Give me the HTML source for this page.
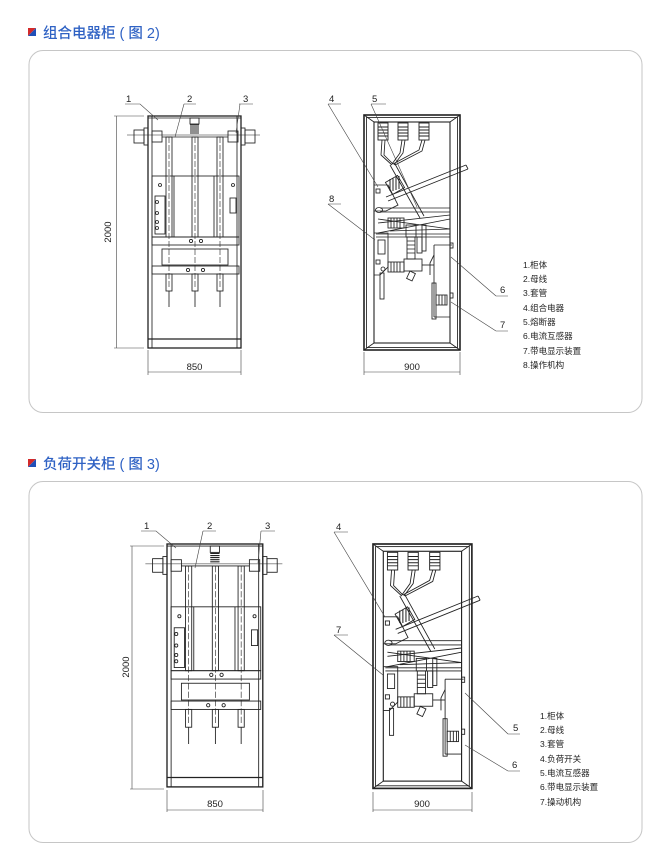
<!DOCTYPE html>
<html><head><meta charset="utf-8"><style>
html,body{margin:0;padding:0;background:#fff;width:661px;height:859px;overflow:hidden}
svg{display:block}
text{font-family:"Liberation Sans","Noto Sans CJK SC",sans-serif;fill:#222}
.t{fill:#2f62c4;font-size:14.5px;font-weight:500}
.lg{font-size:8.5px}
.n{font-size:9.5px}
</style></head><body>
<svg width="661" height="859" viewBox="0 0 661 859" xmlns="http://www.w3.org/2000/svg">
<defs>
<g id="L" fill="none" stroke="#222" stroke-width="0.85">
  <rect x="0" y="0" width="93" height="232" stroke-width="1.3"/>
  <line x1="4" y1="0" x2="4" y2="232"/><line x1="89" y1="0" x2="89" y2="232"/>
  <line x1="0" y1="223" x2="93" y2="223" stroke-width="1.2"/>
  <line x1="0" y1="2" x2="93" y2="2"/>
  <rect x="-14" y="14" width="10" height="13"/><rect x="-4" y="12" width="4" height="17"/>
  <rect x="97" y="14" width="10" height="13"/><rect x="93" y="12" width="4" height="17"/>
  <rect x="4" y="15" width="10" height="11"/><rect x="80" y="15" width="10" height="11"/>
  <line x1="-21" y1="19" x2="112" y2="19" stroke-width="0.5"/>
  <line x1="14" y1="21" x2="80" y2="21"/>
  <rect x="42" y="2" width="9" height="6"/>
  <path d="M42 9h9M42 11h9M42 13h9M42 15h9M42 17h9" stroke-width="1.1"/>
  <rect x="18" y="21" width="6" height="100"/><rect x="44" y="21" width="6" height="100"/><rect x="69" y="21" width="6" height="100"/>
  <path d="M21 21v150M47 21v150M72 21v150" stroke-dasharray="6 2" stroke-width="0.6"/>
  <rect x="4" y="60" width="87" height="61"/>
  <line x1="26" y1="60" x2="26" y2="121"/><line x1="66" y1="60" x2="66" y2="121"/>
  <rect x="7" y="80" width="10" height="38"/>
  <circle cx="9" cy="86" r="1.5"/><circle cx="9" cy="97" r="1.5"/><circle cx="9" cy="106" r="1.5"/><circle cx="9" cy="112" r="1.5"/>
  <rect x="82" y="82" width="6" height="15"/>
  <circle cx="85" cy="69" r="1.5"/><circle cx="12" cy="69" r="1.5"/>
  <rect x="4" y="121" width="87" height="8"/>
  <circle cx="43" cy="125" r="1.6"/><circle cx="53" cy="125" r="1.6"/>
  <rect x="14" y="133" width="66" height="16"/>
  <rect x="4" y="150" width="87" height="8"/>
  <circle cx="40" cy="154" r="1.6"/><circle cx="55" cy="154" r="1.6"/>
  <rect x="18" y="158" width="6" height="17"/><rect x="44" y="158" width="6" height="17"/><rect x="69" y="158" width="6" height="17"/>
  <path d="M21 175v16M47 175v16M72 175v16"/>
</g>
<g id="R" fill="none" stroke="#222" stroke-width="0.85">
  <rect x="0" y="0" width="96" height="235" stroke-width="1.6"/>
  <rect x="2.5" y="2.5" width="91" height="230"/>
  <rect x="10" y="7" width="76" height="221" stroke-width="1.1"/>
  <path d="M0 0L10 7M96 0L86 7M0 235L10 228M96 235L86 228"/>
  <g stroke-width="0.9">
  <rect x="14" y="8" width="10" height="17"/><path d="M14 12h10M14 15h10M14 18h10M14 21h10"/>
  <rect x="34" y="8" width="10" height="17"/><path d="M34 12h10M34 15h10M34 18h10M34 21h10"/>
  <rect x="55" y="8" width="10" height="17"/><path d="M55 12h10M55 15h10M55 18h10M55 21h10"/>
  </g>
  <path d="M18 25L17 40L28 50M21 25L20 40L29 49M38 25L36 38L28 49M41 25L39 38L30 50M58 25L55 35L29 49M61 25L58 36L31 50"/>
  <path d="M26 50L56 103M31 49L60 101"/>
  <path d="M10 70H24L34 90L22 96H10"/>
  <rect x="24" y="63" width="14" height="14" transform="rotate(-30 31 70)"/>
  <path d="M26 64v12M29 63v13M32 62v13M35 61v13" stroke-width="1"/>
  <path d="M22 82L102 50M24 86L104 54M102 50L104 54"/>
  <rect x="12" y="74" width="4" height="4"/>
  <path d="M16 93H86M16 97H86"/><ellipse cx="15" cy="95" rx="3.5" ry="2.5"/>
  <path d="M14 108L86 100M14 118L86 104M14 104L86 114M26 116L86 114"/>
  <rect x="24" y="103" width="16" height="10"/><path d="M27 103v10M30 103v10M33 103v10M36 103v10"/>
  <rect x="42" y="110" width="10" height="12"/>
  <path d="M12 119H86M12 122H86"/>
  <rect x="43" y="122" width="8" height="22"/><path d="M43 126h8M43 130h8M43 134h8M43 138h8"/>
  <rect x="53" y="122" width="5" height="16"/><rect x="58" y="110" width="4" height="26"/>
  <path d="M10 118H24V152L16 160H10"/><rect x="14" y="125" width="7" height="14"/>
  <rect x="12" y="145" width="4" height="4"/><circle cx="19" cy="154" r="2"/>
  <rect x="16" y="158" width="4" height="26"/>
  <rect x="24" y="147" width="16" height="10"/><path d="M27 147v10M30 147v10M33 147v10M36 147v10"/>
  <rect x="40" y="144" width="18" height="12"/><rect x="44" y="157" width="6" height="8" transform="rotate(25 47 161)"/>
  <path d="M58 150H70"/>
  <path d="M70 130H88M70 130V202M70 202H86"/>
  <rect x="86" y="128" width="3" height="5"/><rect x="86" y="178" width="3" height="5"/>
  <path d="M70 140L66 148V160"/>
  <rect x="68" y="168" width="4" height="36"/>
  <rect x="72" y="180" width="11" height="10"/><path d="M75 180v10M78 180v10M81 180v10"/>
</g>
</defs>

<path d="M28 36L36 28H28Z" fill="#d42a2a"/><path d="M28 36H36V28Z" fill="#1f4fb8"/>
<text x="43" y="38" class="t">组合电器柜 ( 图 2)</text>
<rect x="29" y="50.5" width="613" height="362" rx="14" fill="none" stroke="#c6c6c6" stroke-width="1"/>

<use href="#L" x="148" y="116"/>
<use href="#R" x="364" y="115"/>
<g stroke="#444" stroke-width="0.6" fill="none">
  <path d="M114 116H144M114 348H144M116.5 116V348"/>
  <path d="M148 350V375M241 350V375M148 372H241"/>
  <path d="M364 352V375M460 352V375M364 372H460"/>
  <path d="M125 104H140L158 120M184 104H196M184 104L175 137M239 104H253M240 104L236 133"/>
  <path d="M328 104H341M328 104L378 187M371 104H386M371 104L417 207M328 204H341M328 204L375 240"/>
  <path d="M496 296H508M496 296L451 257M496 331H508M496 331L451 302"/>
</g>
<text x="108" y="232" class="n" text-anchor="middle" transform="rotate(-90 108 232)" dy="3">2000</text>
<text x="194.5" y="370" class="n" text-anchor="middle">850</text>
<text x="412" y="370" class="n" text-anchor="middle">900</text>
<text x="126" y="102" class="n">1</text><text x="187" y="102" class="n">2</text><text x="243" y="102" class="n">3</text>
<text x="329" y="102" class="n">4</text><text x="372" y="102" class="n">5</text><text x="329" y="202" class="n">8</text>
<text x="500" y="293" class="n">6</text><text x="500" y="328" class="n">7</text>
<text x="523" y="268" class="lg">1.柜体</text>
<text x="523" y="282" class="lg">2.母线</text>
<text x="523" y="296" class="lg">3.套管</text>
<text x="523" y="311" class="lg">4.组合电器</text>
<text x="523" y="325" class="lg">5.熔断器</text>
<text x="523" y="339" class="lg">6.电流互感器</text>
<text x="523" y="354" class="lg">7.带电显示装置</text>
<text x="523" y="368" class="lg">8.操作机构</text>

<path d="M28 467L36 459H28Z" fill="#d42a2a"/><path d="M28 467H36V459Z" fill="#1f4fb8"/>
<text x="43" y="469" class="t">负荷开关柜 ( 图 3)</text>
<rect x="29" y="481.5" width="613" height="361" rx="14" fill="none" stroke="#c6c6c6" stroke-width="1"/>

<g transform="translate(167 544) scale(1.03 1.047)"><use href="#L"/></g>
<g transform="translate(373 544) scale(1.03 1.04)"><use href="#R"/></g>
<g stroke="#444" stroke-width="0.6" fill="none">
  <path d="M130 546H164M130 789H164M132 546V789"/>
  <path d="M167 790V812M263 790V812M167 810H263"/>
  <path d="M373 792V812M472 792V812M373 810H472"/>
  <path d="M141 531H156L176 548M203 531H216M203 531L195 568M261 531H275M261 531L258 563"/>
  <path d="M334 532H348M334 532L385 617M334 635H348M334 635L383 675"/>
  <path d="M508 734H520M508 734L465 693M508 771H520M508 771L465 745"/>
</g>
<text x="126" y="667" class="n" text-anchor="middle" transform="rotate(-90 126 667)" dy="3">2000</text>
<text x="215" y="807" class="n" text-anchor="middle">850</text>
<text x="422" y="807" class="n" text-anchor="middle">900</text>
<text x="144" y="529" class="n">1</text><text x="207" y="529" class="n">2</text><text x="265" y="529" class="n">3</text>
<text x="336" y="530" class="n">4</text><text x="336" y="633" class="n">7</text>
<text x="513" y="731" class="n">5</text><text x="512" y="768" class="n">6</text>
<text x="540" y="719" class="lg">1.柜体</text>
<text x="540" y="733" class="lg">2.母线</text>
<text x="540" y="747" class="lg">3.套管</text>
<text x="540" y="762" class="lg">4.负荷开关</text>
<text x="540" y="776" class="lg">5.电流互感器</text>
<text x="540" y="790" class="lg">6.带电显示装置</text>
<text x="540" y="805" class="lg">7.操动机构</text>
</svg>
</body></html>
